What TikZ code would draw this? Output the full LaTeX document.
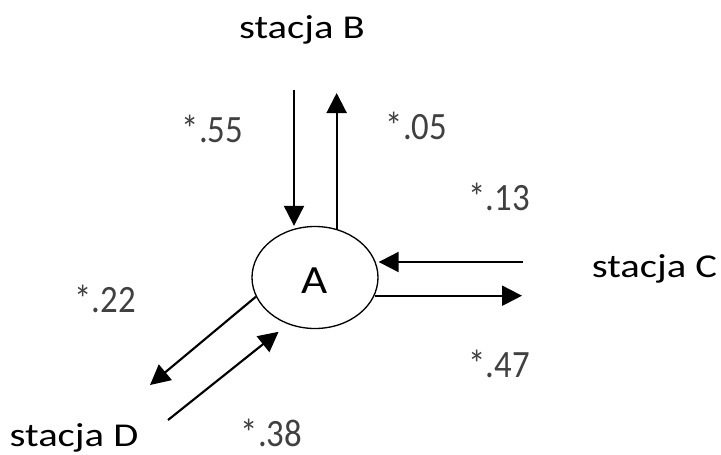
\documentclass[tikz,border=0pt]{standalone}
\usepackage{fontspec}
\setmainfont{Carlito}
\usepackage{graphicx}
\usetikzlibrary{shapes.geometric,arrows.meta}

\newcommand{\wider}[2]{\scalebox{#1}[1]{#2}}

\tikzstyle{station} = [anchor=base, inner sep=0pt, font=\fontsize{25}{30}\selectfont]
\tikzstyle{weight} = [anchor=base, inner sep=0pt, text=black!75, font=\fontsize{29}{34}\selectfont]
\tikzstyle{hub} = [ellipse, draw, line width=1pt, minimum width=94.5pt, minimum height=76.5pt, inner sep=0pt, text height=23.5pt, text depth=0pt, font=\fontsize{30}{36}\selectfont]
\tikzstyle{arrow} = [line width=1.6pt, -{Triangle[length=15pt,width=15pt]}]

\begin{document}
\begin{tikzpicture}
    [x=0.75pt, y=-0.75pt]
  \useasboundingbox (0,0) rectangle (721,454);
  \node[hub] (A) at (315,277.5) {\wider{1.13}{A}};
  \node[station] (B) at (302,38) {\wider{1.22}{stacja B}};
  \node[station] (C) at (654.5,277) {\wider{1.22}{stacja C}};
  \node[station] (D) at (74,446.5) {\wider{1.22}{stacja D}};
  \node[weight] (w55) at (212.5,142) {\wider{0.9}{*.55}};
  \node[weight] (w05) at (416.5,139) {\wider{0.9}{*.05}};
  \node[weight] (w13) at (499,210) {\wider{0.9}{*.13}};
  \node[weight] (w47) at (499,377) {\wider{0.9}{*.47}};
  \node[weight] (w22) at (105,312) {\wider{0.9}{*.22}};
  \node[weight] (w38) at (271.5,446) {\wider{0.9}{*.38}};
  % free ends of the arrows
  \coordinate (Bin) at (294,90);
  \coordinate (Bout) at (336,93);
  \coordinate (Cin) at (523,262);
  \coordinate (Cout) at (522,296);
  \coordinate (Dout) at (150,385);
  \coordinate (Din) at (168,420);
  \draw [arrow] (Bin) -- (Bin |- A.north);
  \draw [arrow] (A.66) -- (A.66 |- Bout);
  \draw [arrow] (Cin) -- (Cin -| A.east);
  \draw [arrow] (A.343) -- (A.343 -| Cout);
  \draw [arrow] (A.198) -- (Dout);
  \draw [arrow, shorten >=9pt] (Din) -- (A.240);
\end{tikzpicture}
\end{document}
